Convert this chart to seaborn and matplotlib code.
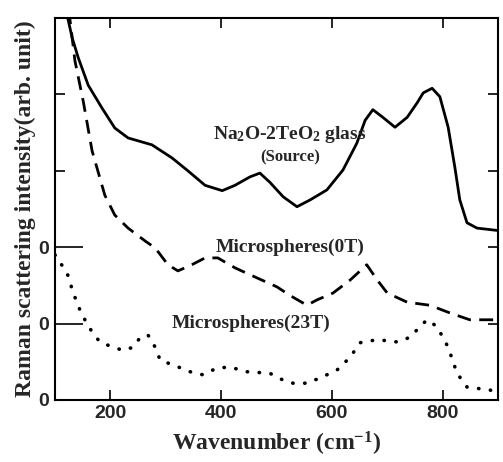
import numpy as np
import pandas as pd
import matplotlib
matplotlib.use("Agg")
import matplotlib.pyplot as plt
import seaborn as sns

# Na2O-2TeO2 glass (source), solid
src_x = [118, 123, 131, 142, 160, 185, 208, 232, 275, 311, 340, 371, 402, 425, 452, 470,
         488, 512, 537, 561, 591, 620, 645, 660, 674, 692, 714, 736, 754, 765, 781, 795,
         810, 822, 831, 844, 862, 898]
src_y = [5.3, 5.0, 4.74, 4.48, 4.12, 3.82, 3.56, 3.43, 3.34, 3.17, 3.00, 2.81, 2.74, 2.81,
         2.92, 2.97, 2.85, 2.66, 2.53, 2.62, 2.75, 3.01, 3.36, 3.66, 3.80, 3.70, 3.57, 3.70,
         3.89, 4.02, 4.08, 3.97, 3.57, 3.05, 2.62, 2.32, 2.25, 2.22]

# Microspheres (0T), dashed
t0_x = [125, 136, 151, 167, 190, 208, 232, 263, 281, 304, 322, 347, 371, 394, 425, 452, 501,
        524, 555, 573, 602, 633, 663, 682, 700, 736, 777, 813, 849, 898]
t0_y = [5.1, 4.44, 3.91, 3.26, 2.68, 2.42, 2.25, 2.08, 1.99, 1.77, 1.69, 1.77, 1.86, 1.86,
        1.73, 1.64, 1.48, 1.37, 1.24, 1.31, 1.40, 1.57, 1.77, 1.57, 1.40, 1.28, 1.24, 1.14,
        1.05, 1.05]

# Microspheres (23T), dotted
t23_x = [100, 122, 133, 145, 154, 167, 181, 205, 223, 241, 254, 268, 281, 290, 313, 344, 367,
         393, 416, 447, 488, 512, 530, 555, 579, 609, 633, 651, 682, 718, 741, 759, 772, 790,
         810, 826, 844, 886, 898]
t23_y = [1.90, 1.66, 1.40, 1.18, 1.05, 0.89, 0.76, 0.69, 0.65, 0.69, 0.82, 0.85, 0.69, 0.52,
         0.46, 0.37, 0.33, 0.42, 0.43, 0.37, 0.35, 0.26, 0.22, 0.22, 0.29, 0.39, 0.56, 0.75,
         0.79, 0.76, 0.82, 0.96, 1.05, 0.96, 0.69, 0.35, 0.17, 0.13, 0.08]

x_ticks = [200, 400, 600, 800]
y_ticks = [0, 1, 2, 3, 4, 5]
y_labels = ["0", "0", "0", "", "", ""]

sns.set_style("ticks")
plt.rcParams["font.family"] = ["Liberation Serif", "DejaVu Serif"]
plt.rcParams["mathtext.fontset"] = "custom"
plt.rcParams["mathtext.rm"] = "Liberation Serif:bold"
plt.rcParams["mathtext.bf"] = "Liberation Serif:bold"
plt.rcParams["mathtext.default"] = "bf"

fig = plt.figure(figsize=(5.03, 4.62), dpi=100)
ax = fig.add_axes([55 / 503, 62 / 462, 443 / 503, 382 / 462])

sns.lineplot(x=src_x, y=src_y, ax=ax, color="black", lw=2.0, sort=False)
sns.lineplot(x=t0_x, y=t0_y, ax=ax, color="black", lw=2.0, sort=False,
             linestyle=(0, (5, 3)))
sns.lineplot(x=t23_x, y=t23_y, ax=ax, color="black", lw=2.6, sort=False,
             linestyle=(0, (0.1, 3.2)))
ax.lines[-1].set_dash_capstyle("round")

ax.set_xlim(100, 900)
ax.set_ylim(0, 5)
ax.set_xticks(x_ticks)
ax.set_yticks(y_ticks)
ax.set_yticklabels(y_labels)
for lab in ax.get_xticklabels() + ax.get_yticklabels():
    lab.set_family(["Liberation Sans", "DejaVu Sans"])
    lab.set_fontweight("bold")
    lab.set_fontsize(14)

ax.tick_params(direction="in", top=True, right=True, length=7, width=1.2, color="black")
ax.tick_params(axis="y", pad=4)
for i in (1, 2):
    ax.yaxis.get_major_ticks()[i].tick1line.set_markersize(20)
for s in ax.spines.values():
    s.set_linewidth(1.5)
    s.set_color("black")

ax.set_xlabel("Wavenumber (cm$^{-1}$)", fontsize=17, fontweight="bold", labelpad=6)
ax.set_ylabel("Raman scattering intensity(arb. unit)", fontsize=17, fontweight="bold", labelpad=2)

txt = dict(fontsize=14, fontweight="bold", ha="center", va="center")
ax.text(524, 3.47, "Na$_2$O-2TeO$_2$ glass", **txt)
ax.text(524, 3.18, "(Source)", fontsize=12, fontweight="bold", ha="center", va="center")
ax.text(524, 2.0, "Microspheres(0T)", **txt)
ax.text(454, 1.0, "Microspheres(23T)", **txt)

fig.savefig("out.png", dpi=100)
